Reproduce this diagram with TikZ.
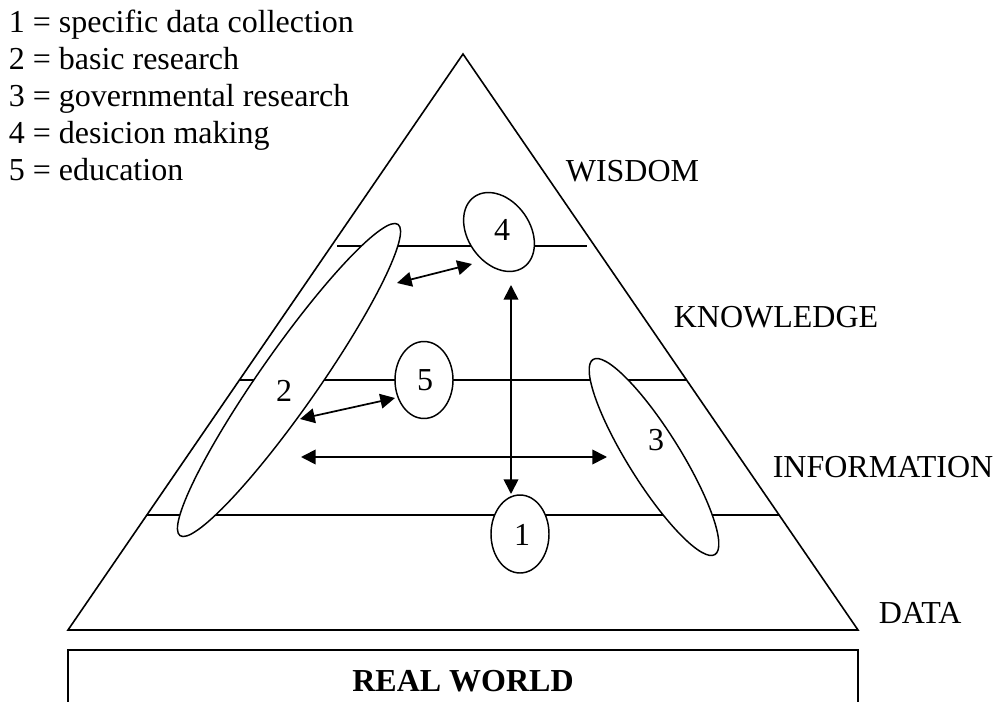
\documentclass[tikz,border=0pt]{standalone}
\usepackage{fontspec}
\setmainfont{Liberation Serif}
\usetikzlibrary{shapes.geometric,arrows.meta}

\newcommand{\pyrfont}{\fontsize{24}{28}\selectfont}

\tikzset{
  oval/.style={draw,ellipse,fill=white,inner sep=0pt,line width=1.1pt},
  twoway/.style={{Triangle[length=11pt,width=11pt]}-{Triangle[length=11pt,width=11pt]},line width=1.3pt},
  level/.style={anchor=west,inner sep=0pt},
}

\begin{document}
\begin{tikzpicture}[x=0.75pt,y=-0.75pt,font=\pyrfont,line width=1.2pt]
  \useasboundingbox (0,0) rectangle (996,702);

  % legend
  \foreach \t [count=\i] in {specific data collection,basic research,governmental research,desicion making,education}
    \node[anchor=base west,inner sep=0pt] (key\i) at (8,{33+37*(\i-1)}) {\i{} = \t};

  % pyramid and layers
  \coordinate (top) at (463,54);
  \coordinate (bl) at (68,630);
  \coordinate (br) at (858,630);
  \draw[line join=miter] (top) -- (br) -- (bl) -- cycle;
  \draw (337,246) -- (587,246);
  \draw (240,380) -- (686,380);
  \draw (147,515) -- (779,515);

  \node[level] (wisdom) at (565,171) {WISDOM};
  \node[level] (knowledge) at (673,317) {KNOWLEDGE};
  \node[level] (information) at (772,467) {INFORMATION};
  \node[level] (data) at (878,613) {DATA};

  % real world box
  \draw (68,706) |- (858,650) -- (858,706);
  \node[font=\pyrfont\bfseries] (world) at (463,681) {REAL WORLD};

  % activities
  \node[oval,minimum width=285pt,minimum height=43.5pt,rotate=55] (e2) at (289,380) {};
  \node[oval,minimum width=172.5pt,minimum height=39pt,rotate=-58] (e3) at (654,457) {};
  \node[oval,minimum width=64.5pt,minimum height=46.5pt,rotate=125] (e4) at (499,232) {};
  \node[oval,minimum width=43.5pt,minimum height=57.75pt] (e5) at (424,380) {};
  \node[oval,minimum width=43.5pt,minimum height=58.5pt] (e1) at (520,534) {};

  \node (t1) at (522,535) {1};
  \node (t2) at (284,391) {2};
  \node (t3) at (656,440) {3};
  \node (t4) at (502,230) {4};
  \node (t5) at (425,380) {5};

  % links
  \coordinate (p24) at (397,283);
  \coordinate (p42) at (472,264);
  \coordinate (p25) at (300,419);
  \coordinate (p52) at (395,398);
  \coordinate (p23) at (301,457);
  \coordinate (p32) at (607,457);
  \coordinate (p41) at (511,285);
  \coordinate (p14) at (511,494);
  \draw[twoway] (p24) -- (p42);
  \draw[twoway] (p25) -- (p52);
  \draw[twoway] (p23) -- (p32);
  \draw[twoway] (p41) -- (p14);
\end{tikzpicture}
\end{document}
